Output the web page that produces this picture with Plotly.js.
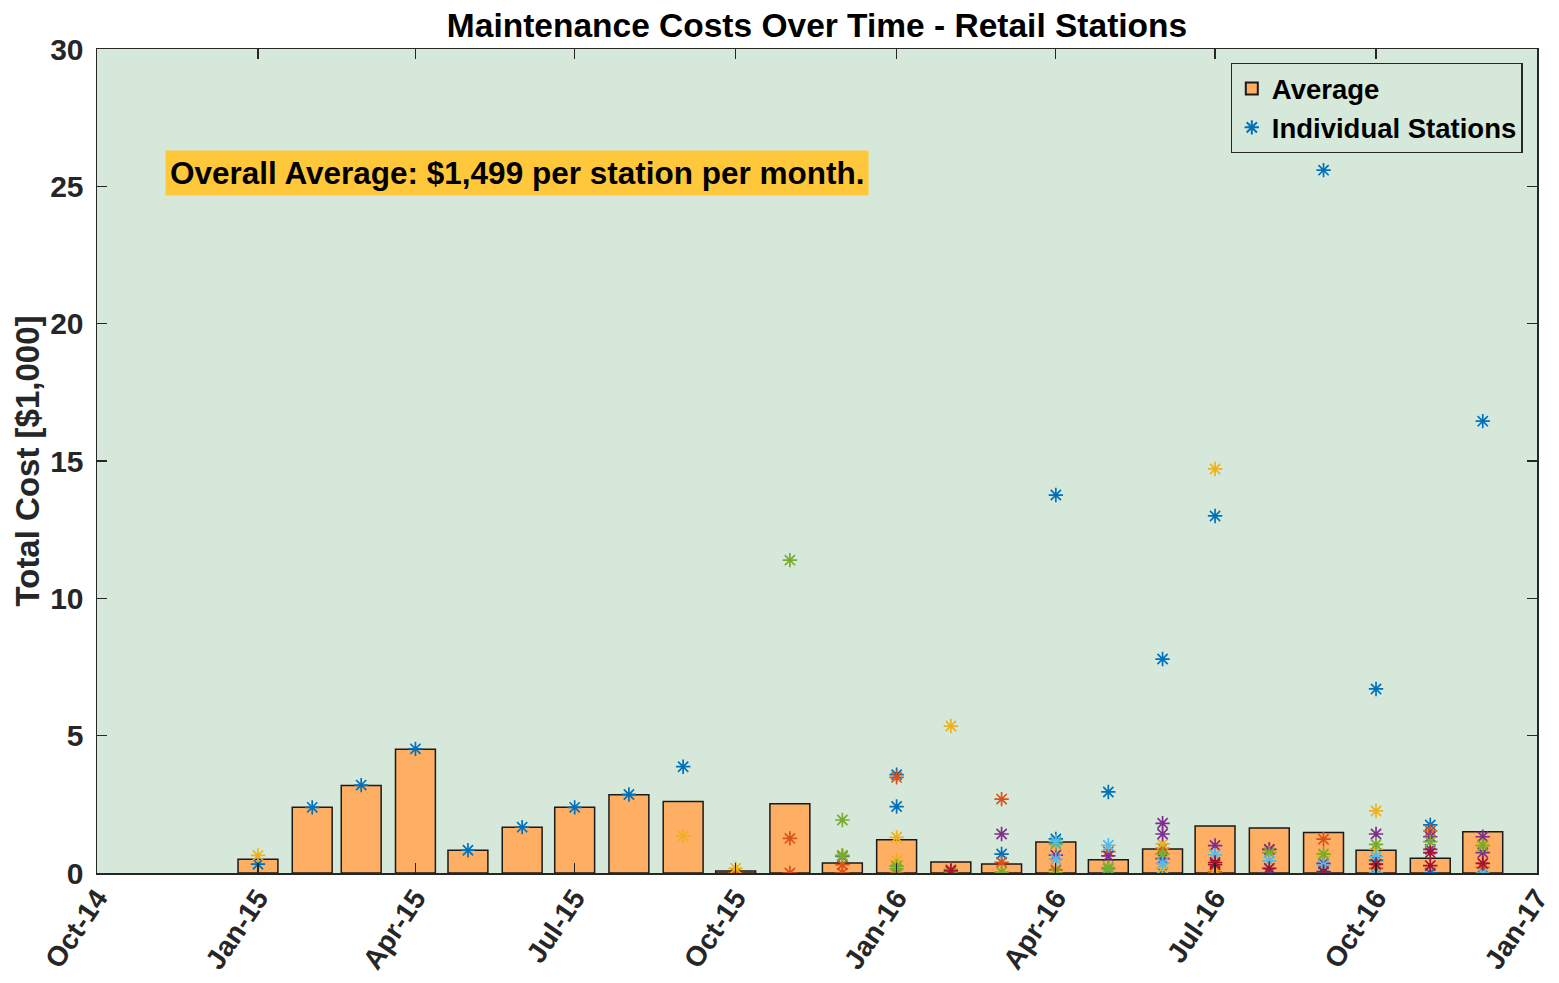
<!DOCTYPE html>
<html>
<head>
<meta charset="utf-8">
<script src="https://cdn.plot.ly/plotly-3.0.1.min.js"></script>
<style>html,body{margin:0;padding:0;background:#fff;}#chart{width:1559px;height:983px;}</style>
</head>
<body>
<div id="chart"></div>
<script>
// Monthly average cost per station [$1,000]
const months = ['2015-01','2015-02','2015-03','2015-04','2015-05','2015-06','2015-07','2015-08','2015-09','2015-10','2015-11','2015-12',
                '2016-01','2016-02','2016-03','2016-04','2016-05','2016-06','2016-07','2016-08','2016-09','2016-10','2016-11','2016-12'];
const avgCost = [0.50,2.39,3.19,4.51,0.83,1.67,2.39,2.85,2.60,0.07,2.52,0.36,
                 1.21,0.40,0.33,1.13,0.48,0.87,1.71,1.64,1.47,0.83,0.54,1.50];

// Individual stations, grouped by marker colour
const blueX = ['2015-01','2015-02','2015-03','2015-04','2015-05','2015-06','2015-07','2015-08','2015-09','2015-12','2016-01','2016-01','2016-03','2016-04','2016-04','2016-05','2016-05','2016-06','2016-06','2016-07','2016-08','2016-09','2016-09','2016-10','2016-10','2016-11','2016-11','2016-12'];
const blueY = [0.32,2.39,3.20,4.52,0.83,1.67,2.39,2.86,3.87,0.60,3.58,2.42,0.69,13.76,1.24,2.95,0.00,7.79,0.00,13.00,0.00,25.59,0.00,6.70,0.46,1.75,0.00,16.45];
const orangeX = ['2015-10','2015-11','2015-11','2015-12','2015-12','2016-01','2016-01','2016-02','2016-03','2016-03','2016-04','2016-05','2016-06','2016-07','2016-08','2016-09','2016-10','2016-11','2016-12'];
const orangeY = [0.00,1.26,0.00,0.30,0.00,3.48,0.00,0.12,2.69,0.39,0.11,0.78,0.90,0.03,0.86,1.23,0.17,1.53,0.20];
const yellowX = ['2015-01','2015-09','2015-10','2015-12','2016-01','2016-01','2016-02','2016-06','2016-06','2016-07','2016-07','2016-09','2016-10','2016-10','2016-12'];
const yellowY = [0.64,1.35,0.17,0.64,1.30,0.45,5.35,1.06,0.17,14.71,0.11,0.60,2.26,0.87,1.05];
const purpleX = ['2016-03','2016-04','2016-05','2016-06','2016-06','2016-06','2016-07','2016-08','2016-09','2016-10','2016-11','2016-11','2016-12','2016-12'];
const purpleY = [1.42,0.65,0.62,1.81,1.42,0.52,1.00,0.86,0.35,1.42,1.32,0.86,1.32,0.74];
const greenX = ['2015-11','2015-12','2015-12','2016-01','2016-01','2016-02','2016-03','2016-04','2016-04','2016-05','2016-05','2016-06','2016-08','2016-09','2016-10','2016-11','2016-12'];
const greenY = [11.39,1.93,0.64,0.25,0.15,0.00,0.03,1.06,0.00,0.20,0.14,0.69,0.74,0.69,1.04,1.14,1.00];
const cyanX = ['2016-04','2016-04','2016-05','2016-06','2016-07','2016-08','2016-09','2016-10','2016-10','2016-12'];
const cyanY = [1.15,0.50,1.01,0.35,0.66,0.44,0.29,0.60,0.00,0.00];
const redX = ['2016-02','2016-07','2016-07','2016-08','2016-09','2016-10','2016-11','2016-11','2016-12'];
const redY = [0.08,0.38,0.30,0.17,0.05,0.32,0.74,0.27,0.35];

const groups = [
  {x: blueX, y: blueY, c: '#0072BD'},
  {x: orangeX, y: orangeY, c: '#D95319'},
  {x: yellowX, y: yellowY, c: '#EDB120'},
  {x: purpleX, y: purpleY, c: '#7E2F8E'},
  {x: greenX, y: greenY, c: '#77AC30'},
  {x: cyanX, y: cyanY, c: '#4DBEEE'},
  {x: redX, y: redY, c: '#A2142F'}
];

const FONT = 'Liberation Sans, Arial, Helvetica, sans-serif';
const DAY = 86400000;

const traces = [{
  type: 'bar', name: 'Average', x: months, y: avgCost,
  width: 22.8 * DAY,
  marker: {color: '#FFAF63', line: {color: '#1a1a1a', width: 1.5}}
}];
groups.forEach((g, i) => {
  traces.push({
    type: 'scatter', mode: 'markers', name: 'Individual Stations',
    showlegend: i === 0, x: g.x, y: g.y,
    marker: {symbol: 'asterisk-open', size: 12, color: g.c, line: {color: g.c, width: 1.7}}
  });
});

const layout = {
  width: 1559, height: 983,
  margin: {l: 97, r: 22, t: 49, b: 110},
  paper_bgcolor: '#ffffff', plot_bgcolor: '#D6E8D9',
  font: {family: FONT, size: 28, color: '#262626', weight: 'bold'},
  title: {text: 'Maintenance Costs Over Time - Retail Stations', x: 0.5, xref: 'paper', xanchor: 'center',
          y: 0.974, yref: 'container', yanchor: 'middle',
          font: {family: FONT, size: 33.5, color: '#000000', weight: 'bold'}},
  xaxis: {
    type: 'date', range: ['2014-10-01', '2017-01-01'],
    tick0: '2014-10-01', dtick: 'M3', tickformat: '%b-%y', tickangle: -56,
    ticks: 'inside', ticklen: 10, tickwidth: 1.2, tickcolor: '#262626',
    showline: true, linecolor: '#262626', linewidth: 1.5, mirror: 'ticks',
    showgrid: false, zeroline: false, ticklabelstandoff: -4,
    tickfont: {family: FONT, size: 28, color: '#262626', weight: 'bold'}
  },
  yaxis: {
    range: [0, 30], tickvals: [0, 5, 10, 15, 20, 25, 30],
    ticks: 'inside', ticklen: 10, tickwidth: 1.2, tickcolor: '#262626',
    showline: true, linecolor: '#262626', linewidth: 1.5, mirror: 'ticks',
    showgrid: false, zeroline: false, ticklabelstandoff: 6,
    tickfont: {family: FONT, size: 30, color: '#262626', weight: 'bold'},
    title: {text: 'Total Cost [$1,000]', standoff: 0,
            font: {family: FONT, size: 33, color: '#262626', weight: 'bold'}}
  },
  legend: {
    x: 0.990, y: 0.983, xanchor: 'right', yanchor: 'top',
    bgcolor: '#D6E8D9', bordercolor: '#262626', borderwidth: 1.2,
    font: {family: FONT, size: 27.5, color: '#000000', weight: 'bold'},
    tracegroupgap: 0, itemsizing: 'constant'
  },
  annotations: [{
    text: 'Overall Average: $1,499 per station per month.',
    xref: 'paper', yref: 'paper', x: 0.047, y: 0.8495, xanchor: 'left', yanchor: 'middle',
    showarrow: false, bgcolor: '#FFC83A', borderpad: 4,
    font: {family: FONT, size: 31.5, color: '#000000', weight: 'bold'}
  }],
  bargap: 0
};

Plotly.newPlot('chart', traces, layout, {displayModeBar: false, staticPlot: true});
</script>
</body>
</html>
